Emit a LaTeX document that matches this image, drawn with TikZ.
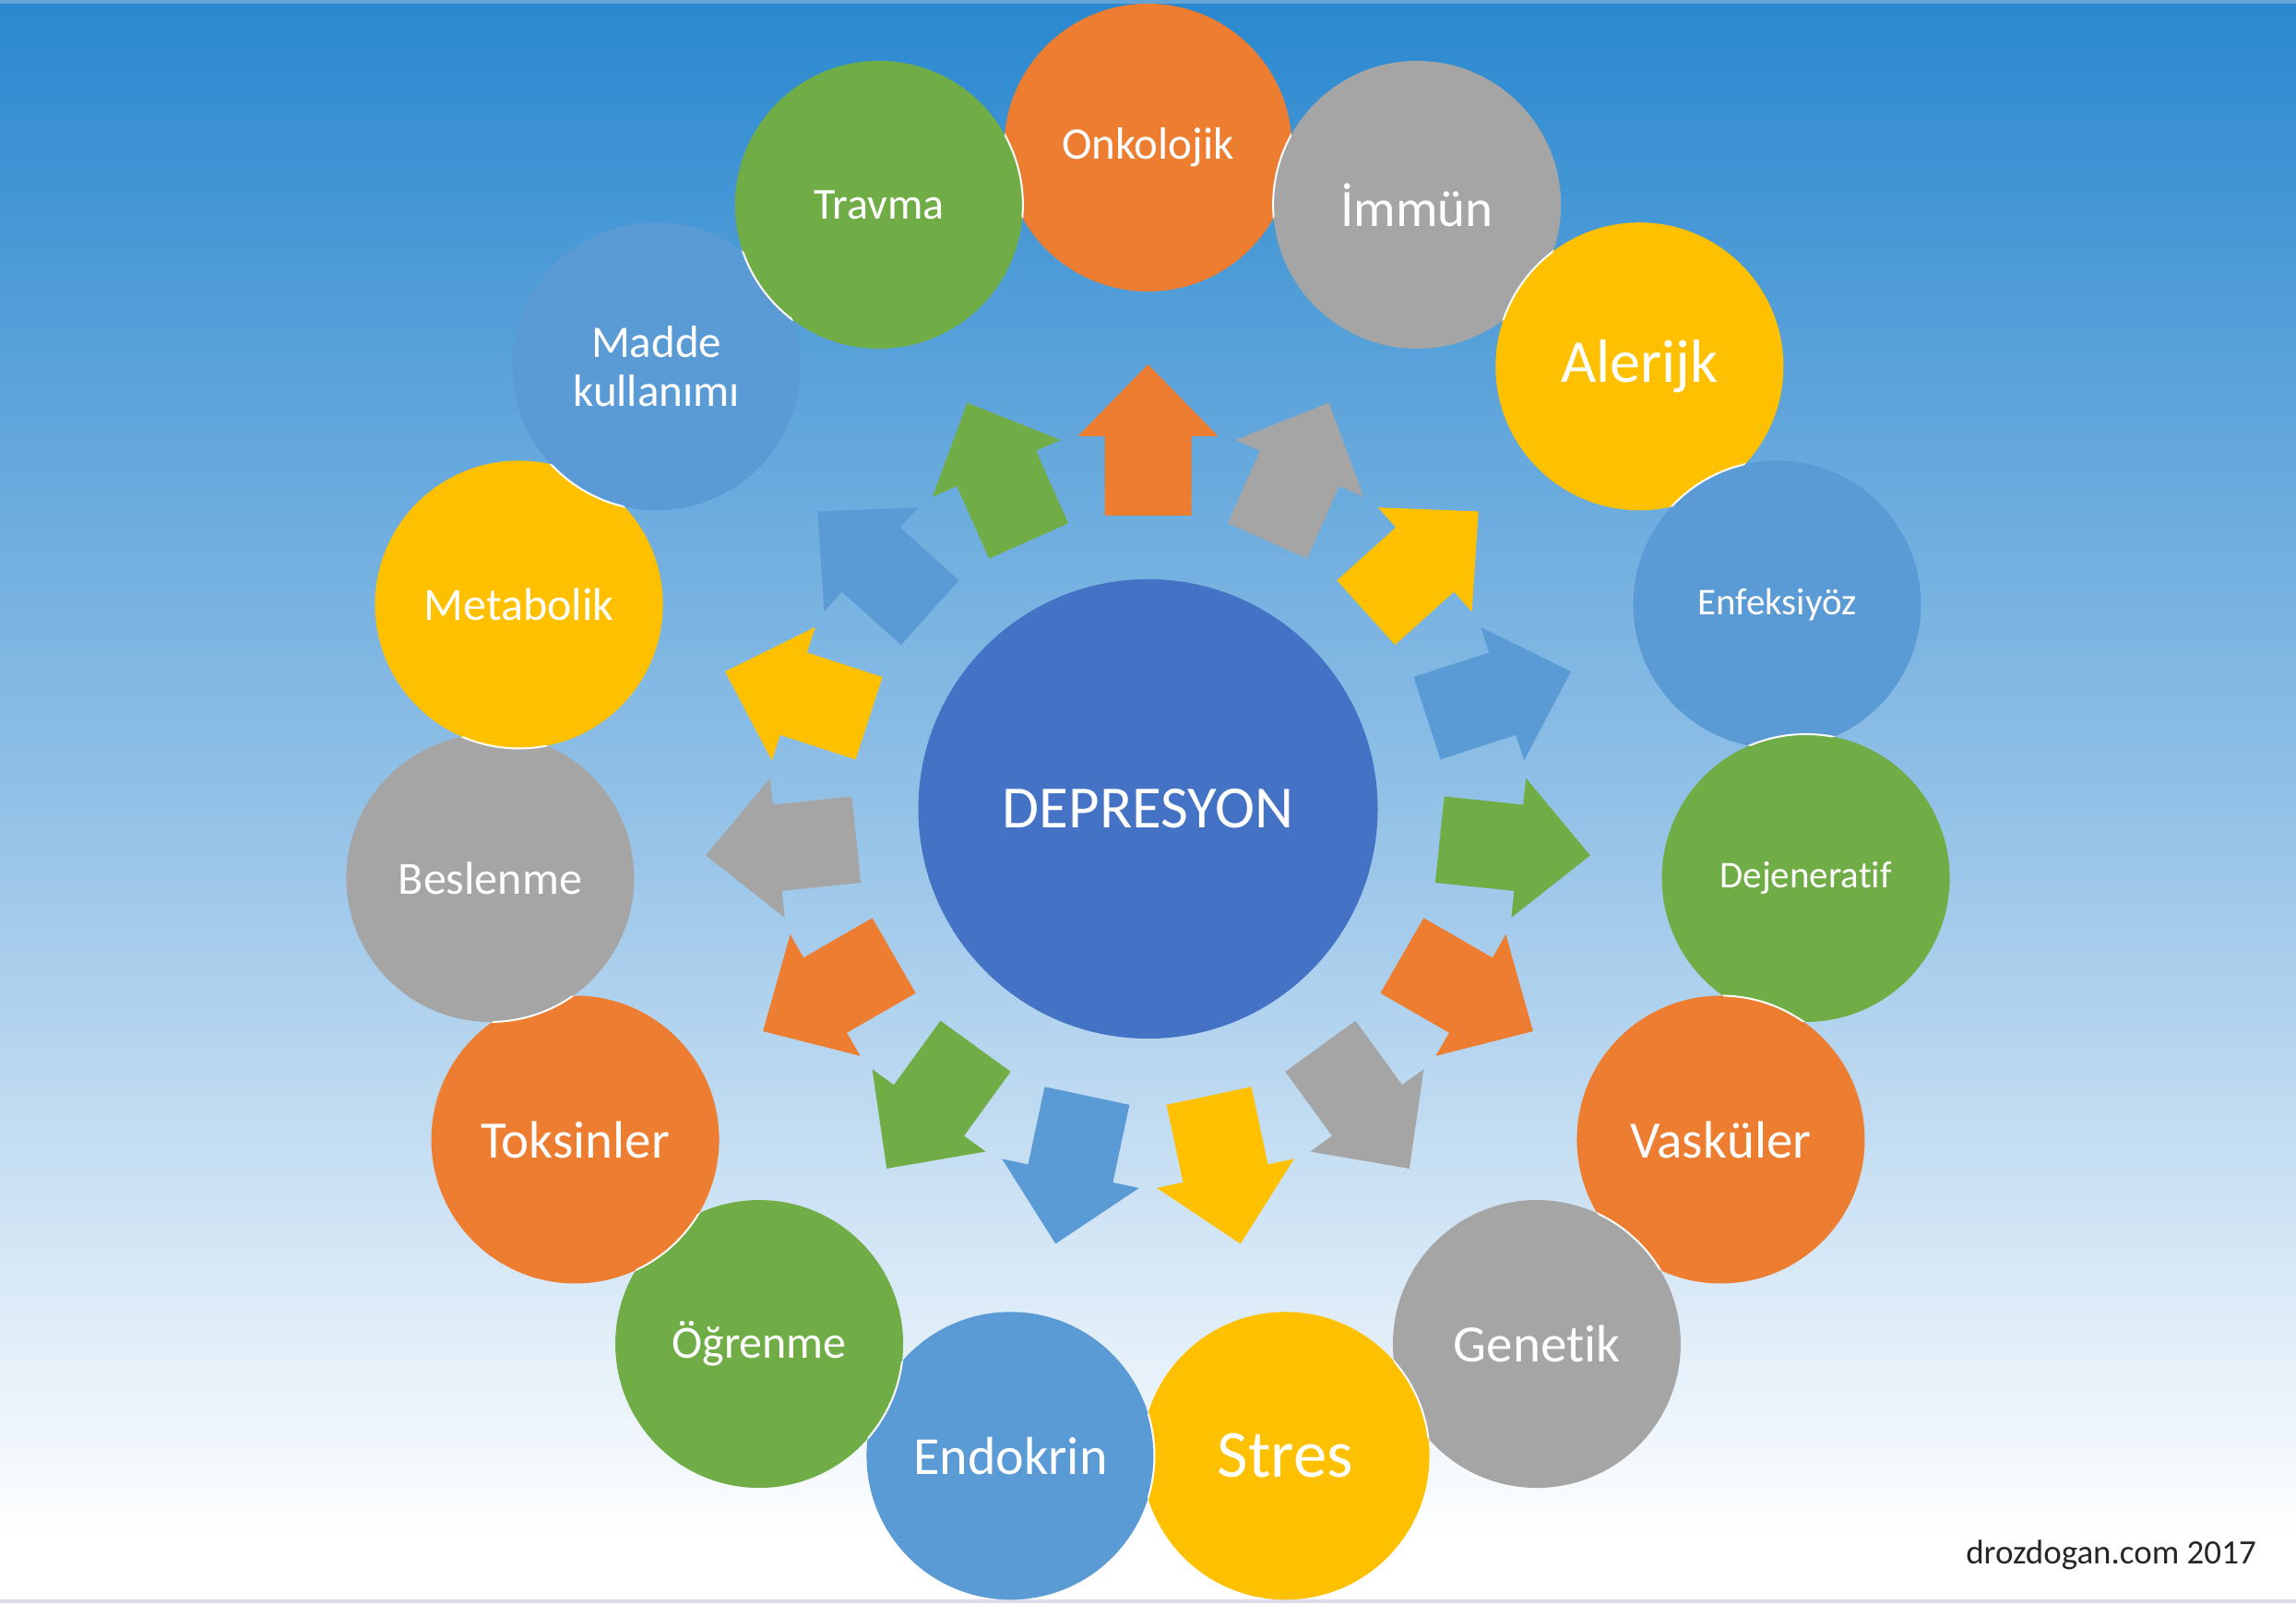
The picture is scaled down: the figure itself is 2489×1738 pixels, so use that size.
\documentclass[tikz,border=0pt]{standalone}
\usepackage{fontspec}
\setmainfont{Carlito}[Ligatures=NoCommon]
\definecolor{orng}{RGB}{237,125,49}
\definecolor{gry}{RGB}{165,165,165}
\definecolor{ylw}{RGB}{255,192,0}
\definecolor{blu}{RGB}{91,155,213}
\definecolor{grn}{RGB}{112,173,71}
\definecolor{ctr}{RGB}{68,114,196}
\definecolor{bgtop}{RGB}{42,136,207}
\definecolor{bgmid}{RGB}{146,193,231}
\definecolor{topstrip}{RGB}{100,165,215}
\definecolor{botline}{RGB}{220,218,235}
\definecolor{wmtext}{RGB}{38,38,38}
\pgfdeclareverticalshading{bgsh}{100bp}{color(0bp)=(white); color(27bp)=(white); color(50bp)=(bgmid); color(75bp)=(bgtop); color(100bp)=(bgtop)}
\newcommand\setfs[1]{\fontsize{#1}{#1}\selectfont}
\newcommand\rimover[2]{\begin{scope}\clip (#1.center) circle[radius=156pt]; \draw[rim] (#2.center) circle[radius=156pt];\end{scope}}
\tikzset{
  bub/.style={circle, minimum size=312pt, inner sep=0pt, text=white, align=center},
  rim/.style={white, line width=2pt},
}
\begin{document}
\begin{tikzpicture}[x=1pt,y=1pt]
\useasboundingbox (0,0) rectangle (2489,1738);
\shade[shading=bgsh] (0,0) rectangle (2489,1738);
\fill[topstrip] (0,1734) rectangle (2489,1738);
\fill[botline] (0,0) rectangle (2489,4);
\coordinate (C) at (1244.5,861);
% arrows
\foreach \i/\c in {0/orng,1/gry,2/ylw,3/blu,4/grn,5/orng,6/gry,7/ylw,8/blu,9/grn,10/orng,11/gry,12/ylw,13/blu,14/grn}
  \fill[\c, shift={(C)}, rotate={90-24*\i}] (318,-47) -- (404,-47) -- (404,-76) -- (482,0) -- (404,76) -- (404,47) -- (318,47) -- cycle;
% centre
\node[bub, fill=ctr, minimum size=498pt, font=\setfs{65}] (dep) at (C) {DEPRESYON};
% outer circles
\node[bub, fill=orng, font=\setfs{49}] (n0) at ([shift={(90:717)}]C) {Onkolojik};
\node[bub, fill=gry, font=\setfs{57}] (n1) at ([shift={(66:717)}]C) {İmmün};
\rimover{n0}{n1}
\node[bub, fill=ylw, font=\setfs{66}] (n2) at ([shift={(42:717)}]C) {Alerijk};
\rimover{n1}{n2}
\node[bub, fill=blu, font=\setfs{41}] (n3) at ([shift={(18:717)}]C) {Enfeksiyöz};
\rimover{n2}{n3}
\node[bub, fill=grn, font=\setfs{41}] (n4) at ([shift={(-6:717)}]C) {Dejeneratif};
\rimover{n3}{n4}
\node[bub, fill=orng, font=\setfs{57}] (n5) at ([shift={(-30:717)}]C) {Vasküler};
\rimover{n4}{n5}
\node[bub, fill=gry, font=\setfs{57}] (n6) at ([shift={(-54:717)}]C) {Genetik};
\rimover{n5}{n6}
\node[bub, fill=ylw, font=\setfs{73}] (n7) at ([shift={(-78:717)}]C) {Stres};
\rimover{n6}{n7}
\node[bub, fill=blu, font=\setfs{58}] (n8) at ([shift={(-102:717)}]C) {Endokrin};
\rimover{n7}{n8}
\node[bub, fill=grn, font=\setfs{50}] (n9) at ([shift={(-126:717)}]C) {Öğrenme};
\rimover{n8}{n9}
\node[bub, fill=orng, font=\setfs{57}] (n10) at ([shift={(-150:717)}]C) {Toksinler};
\rimover{n9}{n10}
\node[bub, fill=gry, font=\setfs{50}] (n11) at ([shift={(-174:717)}]C) {Beslenme};
\rimover{n10}{n11}
\node[bub, fill=ylw, font=\setfs{50}] (n12) at ([shift={(162:717)}]C) {Metabolik};
\rimover{n11}{n12}
\node[bub, fill=blu, font={\fontsize{49}{53}\selectfont}] (n13) at ([shift={(138:717)}]C) {Madde\\kullanımı};
\rimover{n12}{n13}
\node[bub, fill=grn, font=\setfs{48}] (n14) at ([shift={(114:717)}]C) {Travma};
\rimover{n13}{n14}
\rimover{n0}{n14}
% watermark
\node[anchor=base east, text=wmtext, inner sep=0pt, font=\setfs{37}] (wm) at (2446,43) {drozdogan.com 2017};
\end{tikzpicture}
\end{document}
